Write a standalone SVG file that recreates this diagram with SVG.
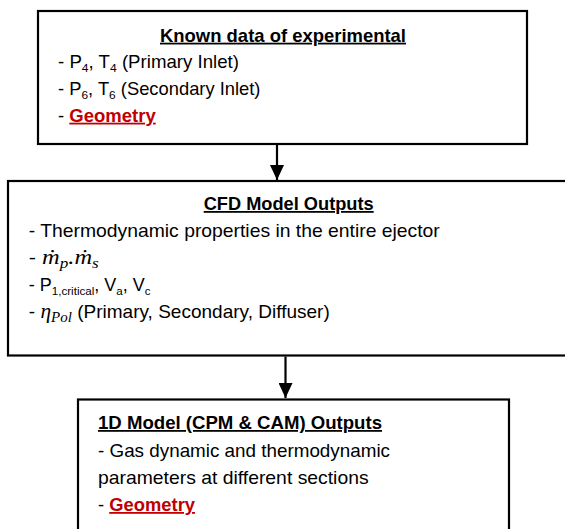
<svg xmlns="http://www.w3.org/2000/svg" width="565" height="529" viewBox="0 0 565 529">
<style>
.box{fill:#fff;stroke:#000;stroke-width:2.2}
.t{font-family:"Liberation Sans",Arial,sans-serif;font-size:17.8px;fill:#000}
.h{font-weight:bold;text-decoration:underline}
.red{fill:#C00000;font-weight:bold;text-decoration:underline}
.m{font-family:"Liberation Serif","DejaVu Serif",serif;font-style:italic;font-size:20px}
.sub{font-size:11.5px}
.msub{font-size:14px}
.conn{stroke:#000;stroke-width:2.2;fill:none}
</style>
<defs>
<marker id="ah" viewBox="0 0 15 14" refX="15" refY="7" markerWidth="15" markerHeight="14" markerUnits="userSpaceOnUse" orient="auto">
<path d="M0,0 L15,7 L0,14 z" fill="#000"/>
</marker>
</defs>
<rect width="565" height="529" fill="#fff"/>
<g id="connectors">
<line class="conn" x1="277" y1="145" x2="277" y2="180" marker-end="url(#ah)"/>
<line class="conn" x1="285.5" y1="356.5" x2="285.5" y2="398" marker-end="url(#ah)"/>
</g>
<g id="known-data">
<rect class="box" x="38" y="11" width="489" height="133"/>
<text class="t h" x="283" y="41.7" text-anchor="middle" textLength="246" lengthAdjust="spacingAndGlyphs">Known data of experimental</text>
<text class="t" x="58" y="68.3" textLength="181" lengthAdjust="spacingAndGlyphs">- P<tspan class="sub" dy="4">4</tspan><tspan dy="-4">, T</tspan><tspan class="sub" dy="4">4</tspan><tspan dy="-4"> (Primary Inlet)</tspan></text>
<text class="t" x="58" y="95" textLength="202.5" lengthAdjust="spacingAndGlyphs">- P<tspan class="sub" dy="4">6</tspan><tspan dy="-4">, T</tspan><tspan class="sub" dy="4">6</tspan><tspan dy="-4"> (Secondary Inlet)</tspan></text>
<text class="t" x="58" y="121.7" textLength="97.7" lengthAdjust="spacingAndGlyphs">- <tspan class="red">Geometry</tspan></text>
</g>
<g id="cfd-model">
<rect class="box" x="8" y="181" width="562" height="174.5"/>
<text class="t h" x="288.7" y="210" text-anchor="middle" textLength="170" lengthAdjust="spacingAndGlyphs">CFD Model Outputs</text>
<text class="t" x="28.8" y="237" textLength="411" lengthAdjust="spacingAndGlyphs">- Thermodynamic properties in the entire ejector</text>
<text class="t" x="28.8" y="263.5" textLength="70" lengthAdjust="spacingAndGlyphs">- <tspan class="m">ṁ</tspan><tspan class="m msub" dy="4">p</tspan><tspan class="m" dy="-4">.ṁ</tspan><tspan class="m msub" dy="4">s</tspan></text>
<text class="t" x="28.8" y="291" textLength="121.8" lengthAdjust="spacingAndGlyphs">- P<tspan class="sub" dy="4">1,critical</tspan><tspan dy="-4">, V</tspan><tspan class="sub" dy="4">a</tspan><tspan dy="-4">, V</tspan><tspan class="sub" dy="4">c</tspan></text>
<text class="t" x="28.8" y="318" textLength="301" lengthAdjust="spacingAndGlyphs">- <tspan class="m">η</tspan><tspan class="m msub" dy="4">Pol</tspan><tspan dy="-4"> (Primary, Secondary, Diffuser)</tspan></text>
</g>
<g id="one-d-model">
<rect class="box" x="78" y="399.5" width="431" height="140"/>
<text class="t h" x="98" y="429" textLength="284" lengthAdjust="spacingAndGlyphs">1D Model (CPM &amp; CAM) Outputs</text>
<text class="t" x="98" y="457" textLength="292" lengthAdjust="spacingAndGlyphs">- Gas dynamic and thermodynamic</text>
<text class="t" x="98" y="484" textLength="270.6" lengthAdjust="spacingAndGlyphs">parameters at different sections</text>
<text class="t" x="98" y="511" textLength="97" lengthAdjust="spacingAndGlyphs">- <tspan class="red">Geometry</tspan></text>
</g>
</svg>
